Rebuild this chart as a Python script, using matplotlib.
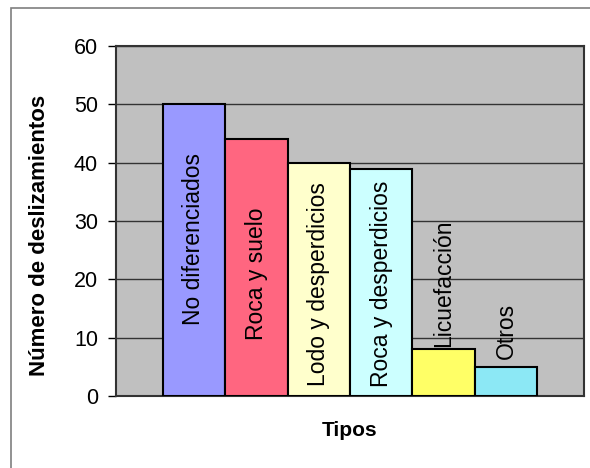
import matplotlib.pyplot as plt
from matplotlib.patches import Rectangle

tipos = ['No diferenciados', 'Roca y suelo', 'Lodo y desperdicios',
         'Roca y desperdicios', 'Licuefacción', 'Otros']
deslizamientos = [50, 44, 40, 39, 8, 5]
colores = ['#9999FF', '#FF6680', '#FFFFCC', '#CCFFFF', '#FFFF66', '#8CE8F5']
yticks = [0, 10, 20, 30, 40, 50, 60]

# where each rotated label sits (center, in data units)
label_y = [26.9, 20.9, 19.2, 19.2, 19.4, 11.1]

plt.rcParams['font.family'] = ['Liberation Sans', 'DejaVu Sans']

fig = plt.figure(figsize=(5.9, 4.68), dpi=100)
W, H = 590, 468
ax = fig.add_axes([116 / W, 1 - 396 / H, 468 / W, 350 / H])

# outer chart frame (runs off the right and bottom edges)
fig.patches.append(Rectangle((11 / W, -0.05), 1.1, 1 - 8 / H + 0.05,
                             transform=fig.transFigure, fill=False,
                             edgecolor='#7f7f7f', linewidth=1.2))

ax.set_facecolor('#C0C0C0')
x = range(len(tipos))
ax.bar(x, deslizamientos, width=1.0, color=colores, edgecolor='black',
       linewidth=1.5, zorder=3)

for i, t in enumerate(tipos):
    ax.text(i, label_y[i], t, rotation=90, ha='center', va='center',
            fontsize=16.5, zorder=4)

ax.set_xlim(-1.25, 6.25)
ax.set_ylim(0, 60)
ax.set_yticks(yticks)
ax.set_xticks([])
ax.tick_params(axis='y', labelsize=15.5, length=6, width=1, pad=7, direction='out')
ax.yaxis.grid(True, color='#333333', linewidth=1, zorder=0)
ax.set_axisbelow(True)
for s in ax.spines.values():
    s.set_linewidth(1.5)
    s.set_color('#333333')

ax.set_ylabel('Número de deslizamientos', fontsize=16, fontweight='bold')
ax.set_xlabel('Tipos', fontsize=15, fontweight='bold')
ax.xaxis.set_label_coords(0.5, -0.072)
ax.yaxis.set_label_coords(-0.14, 0.459)

fig.savefig('out.png', dpi=100)
